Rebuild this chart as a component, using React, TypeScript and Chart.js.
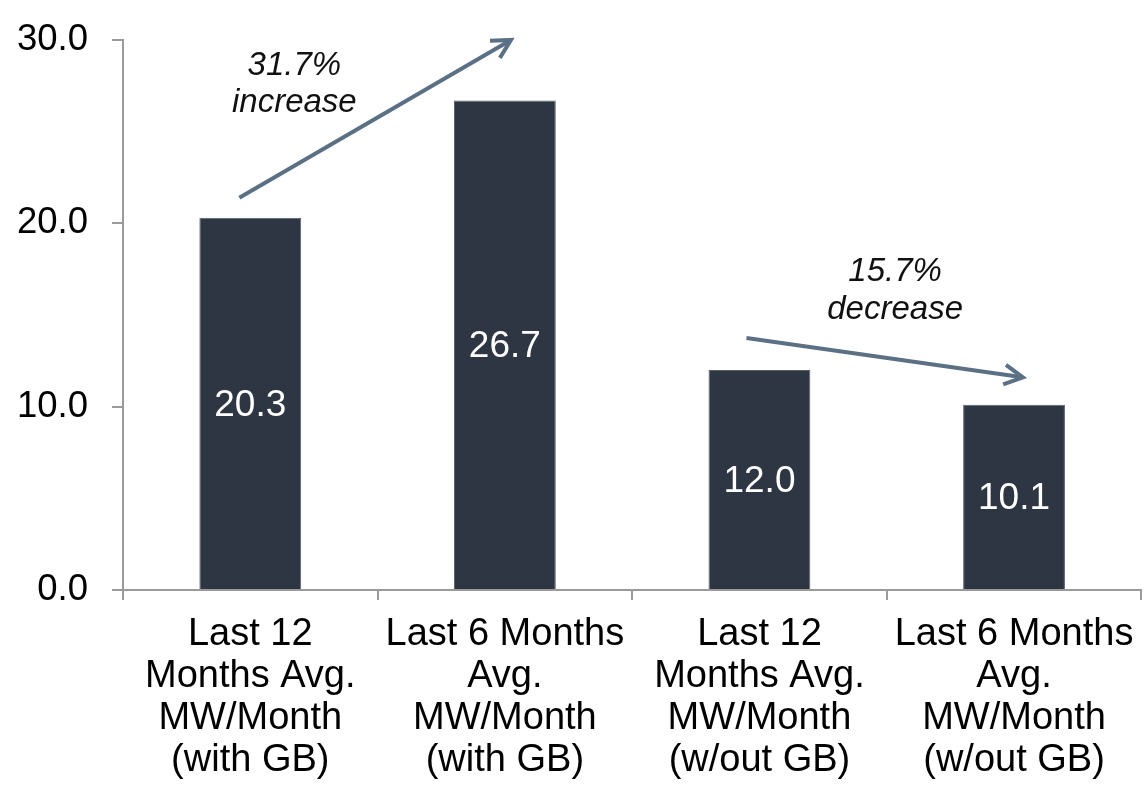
import React, { useEffect, useRef } from "react";
import { Chart, registerables } from "chart.js";

Chart.register(...registerables);

const categories: string[][] = [
  ["Last 12", "Months Avg.", "MW/Month", "(with GB)"],
  ["Last 6 Months", "Avg.", "MW/Month", "(with GB)"],
  ["Last 12", "Months Avg.", "MW/Month", "(w/out GB)"],
  ["Last 6 Months", "Avg.", "MW/Month", "(w/out GB)"],
];
const values: number[] = [20.3, 26.7, 12.0, 10.1];
const yTicks: number[] = [0, 10, 20, 30];

// annotation arrows in data space: [xIndexStart, yStart, xIndexEnd, yEnd]
const arrowIncrease: number[] = [-0.043, 21.4, 1.024, 30.0];
const arrowDecrease: number[] = [1.949, 13.75, 3.035, 11.6];
// annotation texts: [xIndex, yValue]
const noteIncrease = { lines: ["31.7%", "increase"], x: 0.173, y: [28.6, 26.6] };
const noteDecrease = { lines: ["15.7%", "decrease"], x: 2.533, y: [17.35, 15.27] };

const FONT = "'Liberation Sans', Arial, sans-serif";
const BAR_COLOR = "#2e3643";
const ARROW_COLOR = "#5b7085";
const AXIS_COLOR = "#9a9a9a";

const overlayPlugin = {
  id: "overlay",
  afterDatasetsDraw(chart: any) {
    const ctx = chart.ctx;
    const xs = chart.scales.x;
    const ys = chart.scales.y;
    const meta = chart.getDatasetMeta(0);
    ctx.save();
    ctx.fillStyle = "#ffffff";
    ctx.font = `37px ${FONT}`;
    ctx.textAlign = "center";
    ctx.textBaseline = "middle";
    meta.data.forEach((bar: any, i: number) => {
      const midY = (bar.y + bar.base) / 2 + 2;
      ctx.fillText(values[i].toFixed(1), bar.x, midY);
    });
    ctx.restore();

    const drawArrow = (a: number[]) => {
      const x1 = xs.getPixelForValue(a[0]);
      const y1 = ys.getPixelForValue(a[1]);
      const x2 = xs.getPixelForValue(a[2]);
      const y2 = ys.getPixelForValue(a[3]);
      const ang = Math.atan2(y2 - y1, x2 - x1);
      const len = 21;
      const spread = (28 * Math.PI) / 180;
      ctx.save();
      ctx.strokeStyle = ARROW_COLOR;
      ctx.lineWidth = 4;
      ctx.lineCap = "butt";
      ctx.lineJoin = "miter";
      ctx.beginPath();
      ctx.moveTo(x1, y1);
      ctx.lineTo(x2 - Math.cos(ang) * 2, y2 - Math.sin(ang) * 2);
      ctx.stroke();
      ctx.beginPath();
      ctx.moveTo(x2 - len * Math.cos(ang - spread), y2 - len * Math.sin(ang - spread));
      ctx.lineTo(x2, y2);
      ctx.lineTo(x2 - len * Math.cos(ang + spread), y2 - len * Math.sin(ang + spread));
      ctx.stroke();
      ctx.restore();
    };
    drawArrow(arrowIncrease);
    drawArrow(arrowDecrease);

    const drawNote = (n: { lines: string[]; x: number; y: number[] }) => {
      ctx.save();
      ctx.fillStyle = "#111111";
      ctx.font = `italic 33px ${FONT}`;
      ctx.textAlign = "center";
      ctx.textBaseline = "middle";
      const px = xs.getPixelForValue(n.x);
      n.lines.forEach((t, i) => ctx.fillText(t, px, ys.getPixelForValue(n.y[i])));
      ctx.restore();
    };
    drawNote(noteIncrease);
    drawNote(noteDecrease);
  },
};

export default function App() {
  const ref = useRef<HTMLCanvasElement | null>(null);
  useEffect(() => {
    if (!ref.current) return;
    const chart = new Chart(ref.current, {
      type: "bar",
      data: {
        labels: categories,
        datasets: [
          {
            data: values,
            backgroundColor: BAR_COLOR,
            borderColor: "#59606b",
            borderWidth: 1,
            barPercentage: 0.4,
            categoryPercentage: 1.0,
          },
        ],
      },
      options: {
        animation: false,
        responsive: false,
        maintainAspectRatio: false,
        layout: { padding: { top: 40, right: 5, left: 0, bottom: 0 } },
        plugins: { legend: { display: false }, tooltip: { enabled: false } },
        scales: {
          x: {
            grid: {
              display: true,
              drawOnChartArea: false,
              drawTicks: true,
              tickLength: 10,
              color: AXIS_COLOR,
              lineWidth: 2,
              offset: true,
            },
            border: { display: true, color: AXIS_COLOR, width: 2 },
            ticks: {
              color: "#000000",
              font: { family: FONT, size: 38, lineHeight: "42px" },
              padding: 14,
              maxRotation: 0,
              autoSkip: false,
            },
            afterFit: (s: any) => {
              s.height = 201;
            },
          },
          y: {
            min: 0,
            max: 30,
            afterBuildTicks: (s: any) => {
              s.ticks = yTicks.map((v) => ({ value: v }));
            },
            grid: {
              display: true,
              drawOnChartArea: false,
              drawTicks: true,
              tickLength: 11,
              color: AXIS_COLOR,
              lineWidth: 2,
            },
            border: { display: true, color: AXIS_COLOR, width: 2 },
            ticks: {
              color: "#000000",
              font: { family: FONT, size: 36.5, lineHeight: 0.5 },
              padding: 24,
              callback: (v: any) => Number(v).toFixed(1),
            },
            afterFit: (s: any) => {
              s.width = 123;
            },
          },
        },
      },
      plugins: [overlayPlugin],
    });
    return () => chart.destroy();
  }, []);
  return (
    <div style={{ position: "absolute", left: 0, top: 0, width: 1148, height: 791, background: "#fff" }}>
      <canvas ref={ref} width={1148} height={791} style={{ width: 1148, height: 791 }} />
    </div>
  );
}
